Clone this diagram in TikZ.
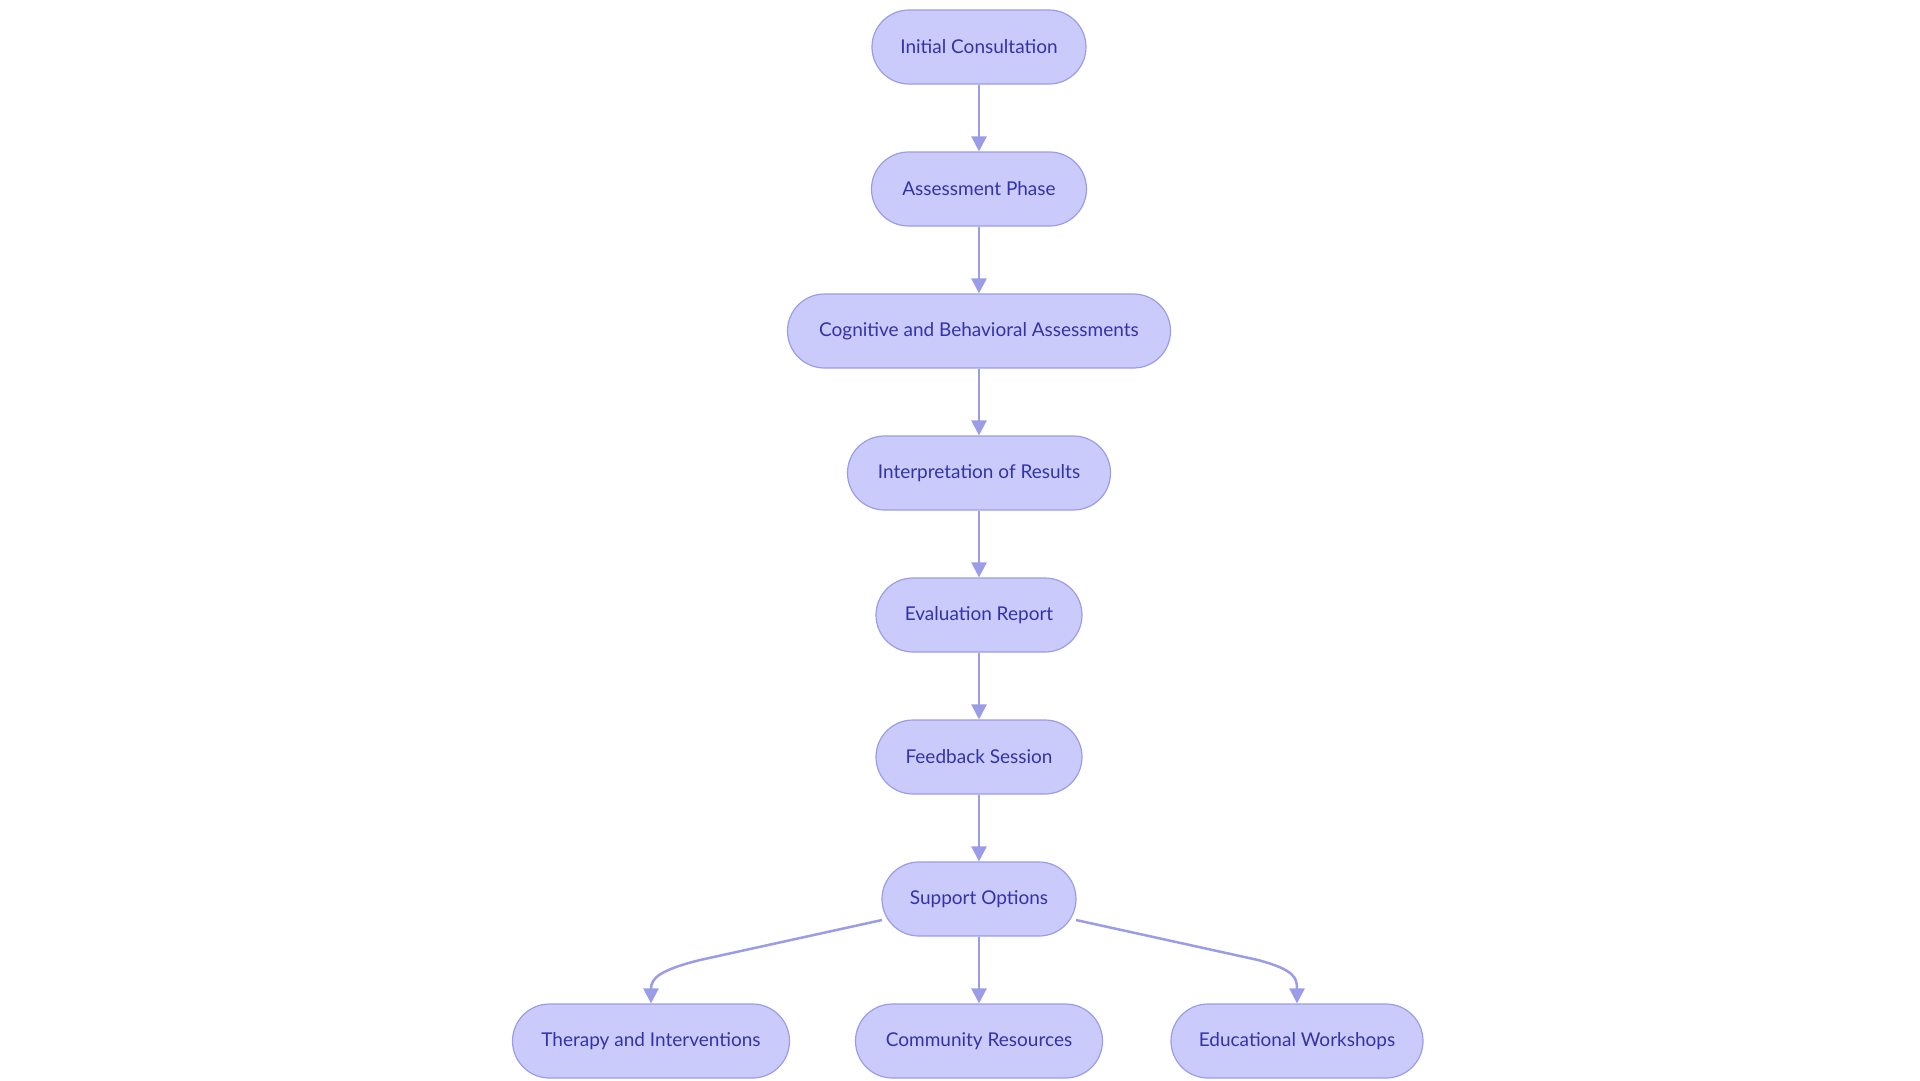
\documentclass[tikz,border=0pt]{standalone}
\usepackage{fontspec}
\setmainfont{Lato}
\usetikzlibrary{arrows.meta}
\definecolor{nfill}{HTML}{CACBFB}
\definecolor{nline}{HTML}{9B9CE8}
\definecolor{ntext}{HTML}{3333A8}
\tikzset{
 box/.style={draw=nline,fill=nfill,line width=1.2pt,rounded corners=37pt,minimum height=74pt,text=ntext,font=\fontsize{19}{22}\selectfont,inner xsep=0pt},
 conn/.style={draw=nline,line width=2.5pt,-{Triangle[length=15pt,width=15pt]}}
}
\begin{document}
\begin{tikzpicture}[x=1pt,y=-1pt]
\useasboundingbox (0,0) rectangle (1920,1080);
\node[box,minimum width=214pt] (a) at (979,47) {Initial Consultation};
\node[box,minimum width=215pt] (b) at (979,189) {Assessment Phase};
\node[box,minimum width=383pt] (c) at (979,331) {Cognitive and Behavioral Assessments};
\node[box,minimum width=263pt] (d) at (979,473) {Interpretation of Results};
\node[box,minimum width=206pt] (e) at (979,615) {Evaluation Report};
\node[box,minimum width=206pt] (f) at (979,757) {Feedback Session};
\node[box,minimum width=194pt] (g) at (979,899) {Support Options};
\node[box,minimum width=277pt] (h) at (651,1041) {Therapy and Interventions};
\node[box,minimum width=247pt] (i) at (979,1041) {Community Resources};
\node[box,minimum width=252pt] (j) at (1297,1041) {Educational Workshops};
\draw[conn] (a) -- (b);
\draw[conn] (b) -- (c);
\draw[conn] (c) -- (d);
\draw[conn] (d) -- (e);
\draw[conn] (e) -- (f);
\draw[conn] (f) -- (g);
\draw[conn] (g) -- (i);
\coordinate (gl) at (882,920);
\coordinate (gr) at (1076,920);
\draw[conn] (gl) -- (700,960) .. controls (660,970) and (651,978) .. (h.north);
\draw[conn] (gr) -- (1258,960) .. controls (1295,970) and (1297,978) .. (j.north);
\end{tikzpicture}
\end{document}
